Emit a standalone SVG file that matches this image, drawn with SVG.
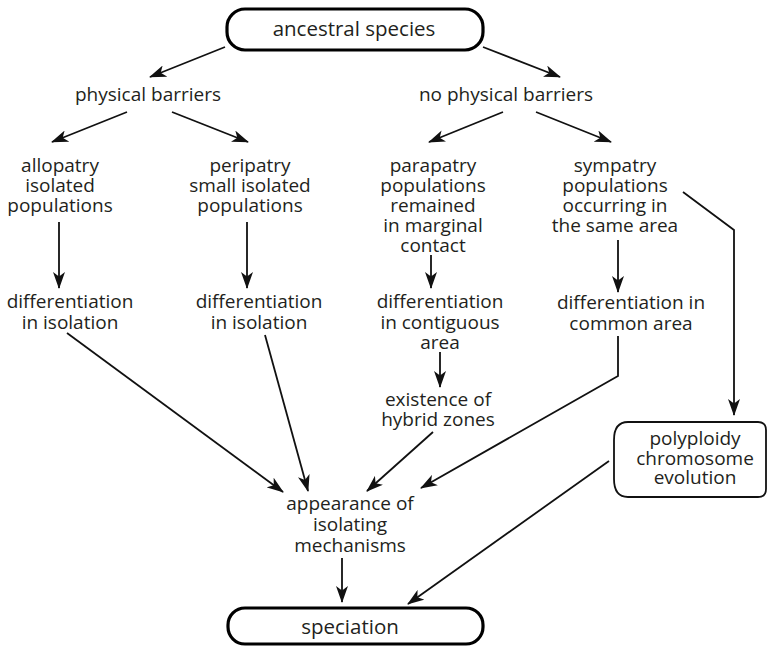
<svg xmlns="http://www.w3.org/2000/svg" width="768" height="647" viewBox="0 0 768 647">
<defs>
<marker id="ah" markerUnits="userSpaceOnUse" markerWidth="17" markerHeight="12" viewBox="0 0 17 12" refX="16" refY="6" orient="auto">
<path d="M0,0 L17,6 L0,12 L4.5,6 Z" fill="#111"/>
</marker>
</defs>
<style>
text{font-family:"Open Sans","Liberation Sans",sans-serif;font-size:19px;fill:#231f20;text-anchor:middle}
.big{font-size:20.5px}
.pill{fill:#fff;stroke:#000;stroke-width:3.2}
.box{fill:#fff;stroke:#111;stroke-width:1.8}
.c{fill:none;stroke:#111;stroke-width:1.8;marker-end:url(#ah)}
</style>
<rect width="768" height="647" fill="#fff"/>
<g id="connectors">
<line class="c" x1="225" y1="47" x2="150" y2="77"/>
<line class="c" x1="483" y1="47" x2="560" y2="77"/>
<line class="c" x1="127" y1="112" x2="52" y2="142"/>
<line class="c" x1="172" y1="112" x2="248" y2="142"/>
<line class="c" x1="503" y1="112" x2="429" y2="142"/>
<line class="c" x1="536" y1="112" x2="611" y2="142"/>
<line class="c" x1="59" y1="222" x2="59" y2="288"/>
<line class="c" x1="247" y1="222" x2="247" y2="288"/>
<line class="c" x1="431" y1="255" x2="431" y2="288"/>
<line class="c" x1="618" y1="240" x2="618" y2="292"/>
<line class="c" x1="440" y1="352" x2="440" y2="387"/>
<line class="c" x1="67" y1="333" x2="283" y2="492"/>
<line class="c" x1="265" y1="335" x2="308" y2="491"/>
<line class="c" x1="433" y1="432" x2="367" y2="491"/>
<polyline class="c" points="618,336 618,376 421,488"/>
<polyline class="c" points="683,192 734,230 734,415"/>
<line class="c" x1="609" y1="461" x2="408" y2="604"/>
<line class="c" x1="342" y1="558" x2="342" y2="602"/>
</g>
<g id="ancestral">
<rect class="pill" x="227" y="9" width="256" height="41" rx="18"/>
<text class="big" x="354" y="36">ancestral species</text>
</g>
<g id="physical"><text x="148" y="101">physical barriers</text></g>
<g id="nophysical"><text x="506" y="101">no physical barriers</text></g>
<g id="allopatry"><text x="60" y="172">allopatry</text><text x="60" y="192">isolated</text><text x="60" y="212">populations</text></g>
<g id="peripatry"><text x="250" y="172">peripatry</text><text x="250" y="192">small isolated</text><text x="250" y="212">populations</text></g>
<g id="parapatry"><text x="433" y="172">parapatry</text><text x="433" y="192">populations</text><text x="433" y="212">remained</text><text x="433" y="232">in marginal</text><text x="433" y="252">contact</text></g>
<g id="sympatry"><text x="615" y="172">sympatry</text><text x="615" y="192">populations</text><text x="615" y="212">occurring in</text><text x="615" y="232">the same area</text></g>
<g id="diff1"><text x="70" y="308">differentiation</text><text x="70" y="329">in isolation</text></g>
<g id="diff2"><text x="259" y="308">differentiation</text><text x="259" y="329">in isolation</text></g>
<g id="diff3"><text x="440" y="308">differentiation</text><text x="440" y="329">in contiguous</text><text x="440" y="349">area</text></g>
<g id="diff4"><text x="631" y="309">differentiation in</text><text x="631" y="330">common area</text></g>
<g id="hybrid"><text x="438" y="406">existence of</text><text x="438" y="426">hybrid zones</text></g>
<g id="polyploidy">
<path class="box" d="M628,422 H758 Q766,422 766,430 V489 Q766,497 758,497 H628 Q614,497 614,479 V440 Q614,422 628,422 Z"/>
<text x="695" y="445">polyploidy</text><text x="695" y="465">chromosome</text><text x="695" y="484">evolution</text>
</g>
<g id="appearance"><text x="350" y="510">appearance of</text><text x="350" y="531">isolating</text><text x="350" y="552">mechanisms</text></g>
<g id="speciation">
<rect class="pill" x="228" y="608" width="255" height="36" rx="17"/>
<text class="big" x="350" y="634">speciation</text>
</g>
</svg>
